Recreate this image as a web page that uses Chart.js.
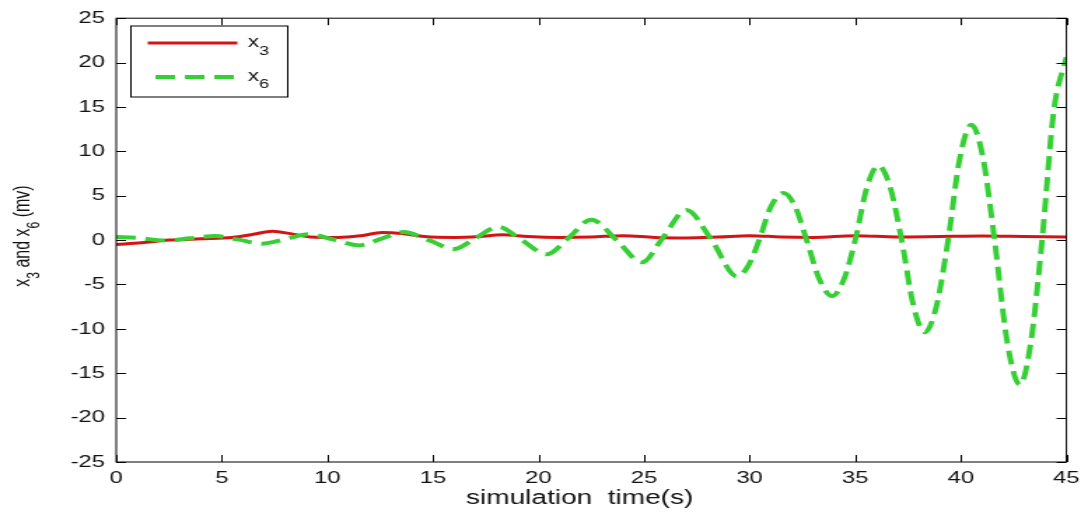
<!DOCTYPE html>
<html lang="en">
<head>
  <meta charset="UTF-8">
  <title>x3 and x6</title>
  <script src="https://cdn.jsdelivr.net/npm/chart.js"></script>
  <style>
    html, body { margin: 0; padding: 0; background: #fff; }
  </style>
</head>
<body>
  <!-- drawn at 777px wide and stretched to 1088px, the reference picture is stretched the same way -->
  <canvas id="c" width="777" height="513" style="width:1088px;height:513px;display:block"></canvas>
  <script>
    // x3 (red, solid)
    const tX3 = [0, 1.2, 2.5, 4.0, 5.5, 6.5, 7.4, 8.3, 9.2, 10.5, 11.6, 12.6, 13.5, 14.6, 16.0, 17.2, 18.3, 19.5, 21.0, 22.5, 24.0, 25.5, 27.0, 28.5, 30.0, 31.5, 33.0, 35.0, 37.0, 39.0, 41.0, 43.0, 45.0];
    const x3 = [-0.5, -0.3, 0.0, 0.15, 0.3, 0.65, 1.0, 0.7, 0.35, 0.3, 0.5, 0.85, 0.75, 0.4, 0.3, 0.4, 0.6, 0.4, 0.3, 0.35, 0.5, 0.3, 0.25, 0.35, 0.5, 0.35, 0.3, 0.5, 0.35, 0.4, 0.45, 0.4, 0.35];

    // x6 (green, dashed)
    const tX6 = [0, 1.0, 2.3, 3.5, 4.7, 5.8, 6.9, 8.0, 9.1, 10.3, 11.5, 12.5, 13.6, 14.8, 16.0, 17.0, 18.1, 19.2, 20.4, 21.4, 22.5, 23.7, 24.9, 25.9, 27.0, 28.2,
                 29.4, 29.93, 30.45, 31.0, 31.6, 32.15, 32.7, 33.3, 33.9, 34.45, 35.0, 35.55, 36.1, 36.65, 37.2, 37.75, 38.3, 38.85, 39.4, 39.95, 40.5, 41.05, 41.6, 42.2, 42.8, 43.3, 43.85, 44.4, 45.0];
    const x6 = [0.35, 0.25, -0.05, 0.2, 0.45, 0.05, -0.4, 0.1, 0.65, 0.05, -0.6, 0.1, 0.9, 0.0, -1.0, 0.2, 1.5, 0.0, -1.6, 0.2, 2.3, 0.0, -2.5, 0.3, 3.4, 0.0,
                -4.1, -2.9, 0.0, 3.75, 5.3, 3.8, 0.0, -4.4, -6.3, -4.5, 0.0, 5.9, 8.4, 6.0, 0.0, -7.3, -10.4, -7.4, 0.0, 9.2, 13.0, 9.3, 0.0, -11.5, -16.3, -11.8, 0.0, 14.5, 20.6];

    const xTicks = [0, 5, 10, 15, 20, 25, 30, 35, 40, 45];
    const yTicks = [-25, -20, -15, -10, -5, 0, 5, 10, 15, 20, 25];

    const RED = '#d41414';
    const GREEN = '#36d036';
    const FONT = '"Liberation Sans", Arial, sans-serif';

    const toPts = (ts, vs) => ts.map((t, i) => ({ x: t, y: vs[i] }));

    // text with a subscript: parts = [[text, isSub], ...]
    function subText(ctx, parts, x, y, size, subSize, drop) {
      let cx = x;
      parts.forEach(([s, sub]) => {
        ctx.font = (sub ? subSize : size) + 'px ' + FONT;
        ctx.fillText(s, cx, sub ? y + drop : y);
        cx += ctx.measureText(s).width;
      });
      return cx - x;
    }
    function subWidth(ctx, parts, size, subSize) {
      let w = 0;
      parts.forEach(([s, sub]) => { ctx.font = (sub ? subSize : size) + 'px ' + FONT; w += ctx.measureText(s).width; });
      return w;
    }

    const framePlugin = {
      id: 'frame',
      afterDraw(chart) {
        const { ctx, chartArea: a, scales: { x, y } } = chart;
        ctx.save();
        // box and inward ticks on all four sides
        ctx.strokeStyle = '#000';
        ctx.lineWidth = 1;
        ctx.strokeRect(a.left, a.top, a.right - a.left, a.bottom - a.top);
        ctx.beginPath();
        xTicks.forEach(v => {
          const px = Math.round(x.getPixelForValue(v)) + 0.5;
          ctx.moveTo(px, a.bottom); ctx.lineTo(px, a.bottom - 7);
          ctx.moveTo(px, a.top); ctx.lineTo(px, a.top + 7);
        });
        yTicks.forEach(v => {
          const py = Math.round(y.getPixelForValue(v)) + 0.5;
          ctx.moveTo(a.left, py); ctx.lineTo(a.left + 7, py);
          ctx.moveTo(a.right, py); ctx.lineTo(a.right - 7, py);
        });
        ctx.stroke();

        // legend
        const lx = 93.5, ly = 26, lw = 112, lh = 71;
        ctx.fillStyle = '#fff';
        ctx.fillRect(lx, ly, lw, lh);
        ctx.strokeRect(lx, ly, lw, lh);
        ctx.lineWidth = 3;
        ctx.strokeStyle = RED;
        ctx.beginPath(); ctx.moveTo(105.5, 43); ctx.lineTo(169.5, 43); ctx.stroke();
        ctx.lineWidth = 4;
        ctx.strokeStyle = GREEN;
        ctx.setLineDash([14, 7]);
        ctx.beginPath(); ctx.moveTo(111, 77); ctx.lineTo(169.5, 77); ctx.stroke();
        ctx.setLineDash([]);
        ctx.fillStyle = '#111';
        ctx.textAlign = 'left';
        ctx.textBaseline = 'alphabetic';
        subText(ctx, [['x', false], ['3', true]], 177, 47, 16, 13, 8);
        subText(ctx, [['x', false], ['6', true]], 177, 81, 16, 13, 7);

        // y axis title, rotated
        const yParts = [['x', false], ['3', true], [' and x', false], ['6', true], [' (mv)', false]];
        ctx.translate(20.5, 236);
        ctx.rotate(-Math.PI / 2);
        const w = subWidth(ctx, yParts, 16, 12);
        subText(ctx, yParts, -w / 2, 0, 16, 12, 7);
        ctx.setTransform(1, 0, 0, 1, 0, 0);

        // x axis title
        ctx.font = '20px ' + FONT;
        ctx.textAlign = 'center';
        ctx.fillText('simulation  time(s)', 414, 504);
        ctx.restore();
      }
    };

    new Chart(document.getElementById('c'), {
      type: 'line',
      data: {
        datasets: [
          { label: 'x6', data: toPts(tX6, x6), borderColor: GREEN, borderWidth: 4, borderDash: [14, 7],
            pointRadius: 0, fill: false, cubicInterpolationMode: 'monotone' },
          { label: 'x3', data: toPts(tX3, x3), borderColor: RED, borderWidth: 3,
            pointRadius: 0, fill: false, cubicInterpolationMode: 'monotone' }
        ]
      },
      options: {
        responsive: false,
        devicePixelRatio: 1,
        animation: false,
        layout: { padding: { top: 17, right: 15, left: 0, bottom: 0 } },
        plugins: { legend: { display: false }, tooltip: { enabled: false } },
        scales: {
          x: {
            type: 'linear', min: 0, max: 45,
            afterBuildTicks: s => { s.ticks = xTicks.map(v => ({ value: v })); },
            afterFit: s => { s.height = 51; },
            grid: { display: false, drawTicks: false },
            border: { display: false },
            ticks: { color: '#111', padding: 6, maxRotation: 0, font: { family: FONT, size: 17 } }
          },
          y: {
            type: 'linear', min: -25, max: 25,
            afterBuildTicks: s => { s.ticks = yTicks.map(v => ({ value: v })); },
            afterFit: s => { s.width = 83; },
            grid: { display: false, drawTicks: false },
            border: { display: false },
            ticks: { color: '#111', padding: 8, font: { family: FONT, size: 17 } }
          }
        }
      },
      plugins: [framePlugin]
    });
  </script>
</body>
</html>
